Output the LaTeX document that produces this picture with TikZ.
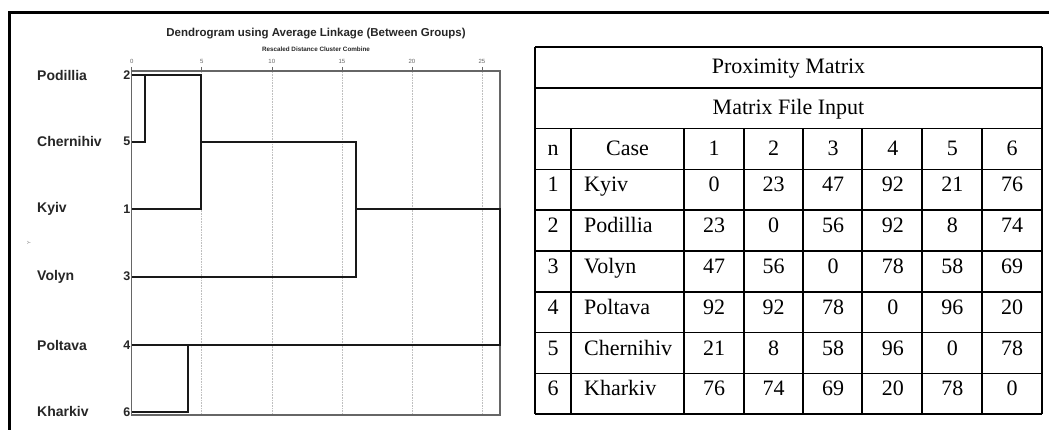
\documentclass[tikz,border=0pt]{standalone}
\usepackage{fontspec}
\setmainfont{Liberation Serif}
\setsansfont{Liberation Sans}
\begin{document}
\begin{tikzpicture}[x=1pt,y=-1pt,
  frameline/.style={line width=3pt,black},
  plotframe/.style={line width=1.2pt,black!60},
  gridln/.style={densely dotted,line width=0.6pt,black!25},
  dline/.style={line width=1.7pt,black!90},
  tline/.style={line width=1.6pt,black},
  leaf/.style={font=\sffamily\bfseries\fontsize{14}{16}\selectfont,anchor=west,inner sep=0pt,text=black!85},
  leafno/.style={font=\sffamily\bfseries\fontsize{12.5}{14}\selectfont,anchor=east,inner sep=0pt,text=black!85},
  axisno/.style={font=\sffamily\fontsize{6}{7}\selectfont,text=black!60,inner sep=0pt},
  cell/.style={font=\fontsize{22}{24}\selectfont,inner sep=0pt,anchor=base},
  cellw/.style={font=\fontsize{22}{24}\selectfont,inner sep=0pt,anchor=base west},
]
\useasboundingbox (0,0) rectangle (1049,430);
\fill[white] (0,0) rectangle (1049,430);
% outer frame
\draw[frameline] (9.5,430) -- (9.5,13) -- (1049,13);

% ---------- dendrogram ----------
\node[font=\sffamily\bfseries\fontsize{11.5}{13}\selectfont,inner sep=0pt,text=black!85] (title) at (316,34) {Dendrogram using Average Linkage (Between Groups)};
\node[font=\sffamily\bfseries\fontsize{6.3}{7}\selectfont,inner sep=0pt,text=black!85] (subtitle) at (316,49) {Rescaled Distance Cluster Combine};

\foreach \k in {5,10,15,20,25}
  \draw[gridln] ({131.7+14.01*\k},72) -- ({131.7+14.01*\k},414);
\foreach \k in {0,5,10,15,20,25}{
  \draw[black!60,line width=0.6pt] ({131.7+14.01*\k},67) -- ({131.7+14.01*\k},71);
  \node[axisno] (ax\k) at ({131.7+14.01*\k},61) {\k};
}
\draw[plotframe] (131.7,71) rectangle (500,415);

\node[leaf] (lP)  at (37,75)    {Podillia};
\node[leaf] (lC)  at (37,141.7) {Chernihiv};
\node[leaf] (lK)  at (37,209.3) {Kyiv};
\node[leaf] (lV)  at (37,276.7) {Volyn};
\node[leaf] (lPo) at (37,345)   {Poltava};
\node[leaf] (lKh) at (37,411.7) {Kharkiv};
\node[leafno] (nP)  at (130.5,75)    {2};
\node[leafno] (nC)  at (130.5,141.7) {5};
\node[leafno] (nK)  at (130.5,209.3) {1};
\node[leafno] (nV)  at (130.5,276.7) {3};
\node[leafno] (nPo) at (130.5,345)   {4};
\node[leafno] (nKh) at (130.5,411.7) {6};
\node[font=\sffamily\fontsize{5}{5}\selectfont,text=black!50,rotate=90,inner sep=0pt] (ylab) at (29,243) {Y};

\coordinate (P)  at (131.7,75);
\coordinate (C)  at (131.7,141.7);
\coordinate (K)  at (131.7,209.3);
\coordinate (V)  at (131.7,276.7);
\coordinate (Po) at (131.7,345);
\coordinate (Kh) at (131.7,411.7);
\coordinate (m1t) at (145,75);
\coordinate (m1b) at (145,141.7);
\coordinate (m2t) at (201,75);
\coordinate (m2m) at (201,141.7);
\coordinate (m2b) at (201,209.3);
\coordinate (m3t) at (356,141.7);
\coordinate (m3m) at (356,209.3);
\coordinate (m3b) at (356,276.7);
\coordinate (m4t) at (188,345);
\coordinate (m4b) at (188,411.7);
\coordinate (m5t) at (500,209.3);
\coordinate (m5b) at (500,345);

\draw[dline] (P) -- (m2t) -- (m2b) -- (K);
\draw[dline] (m1t) -- (m1b) -- (C);
\draw[dline] (m2m) -- (m3t) -- (m3b) -- (V);
\draw[dline] (m3m) -- (m5t) -- (m5b) -- (Po);
\draw[dline] (m4t) -- (m4b) -- (Kh);

% ---------- table ----------
\def\tl{535}\def\tr{1042}
\foreach \i in {0,...,9}
  \draw[tline] (\tl,{47+40.8*\i}) -- (\tr,{47+40.8*\i});
\draw[tline] (\tl,47) -- (\tl,414.2);
\draw[tline] (\tr,47) -- (\tr,414.2);
\foreach \cx in {571,684,744,803,862,922,982}
  \draw[tline] (\cx,128.6) -- (\cx,414.2);

\node[cell] (hprox) at (788.5,74) {Proximity Matrix};
\node[cell] (hfile) at (788.5,114.8) {Matrix File Input};
\node[cell] (hn) at (553,155.6) {n};
\node[cell] (hcase) at (627.5,155.6) {Case};
\foreach \j in {1,...,6}
  \node[cell] (hc\j) at ({714+59.6*(\j-1)},155.6) {\j};

\foreach \r/\nm/\a/\b/\c/\d/\e/\f in {
  1/Kyiv/0/23/47/92/21/76,
  2/Podillia/23/0/56/92/8/74,
  3/Volyn/47/56/0/78/58/69,
  4/Poltava/92/92/78/0/96/20,
  5/Chernihiv/21/8/58/96/0/78,
  6/Kharkiv/76/74/69/20/78/0}{
  \node[cell] (n\r) at (553,{47+40.8*(\r+2)+22.5}) {\r};
  \node[cellw] (case\r) at (584,{47+40.8*(\r+2)+22.5}) {\nm};
  \foreach \v [count=\j] in {\a,\b,\c,\d,\e,\f}
    \node[cell] (v\r-\j) at ({714+59.6*(\j-1)},{47+40.8*(\r+2)+22.5}) {\v};
}
\end{tikzpicture}
\end{document}
